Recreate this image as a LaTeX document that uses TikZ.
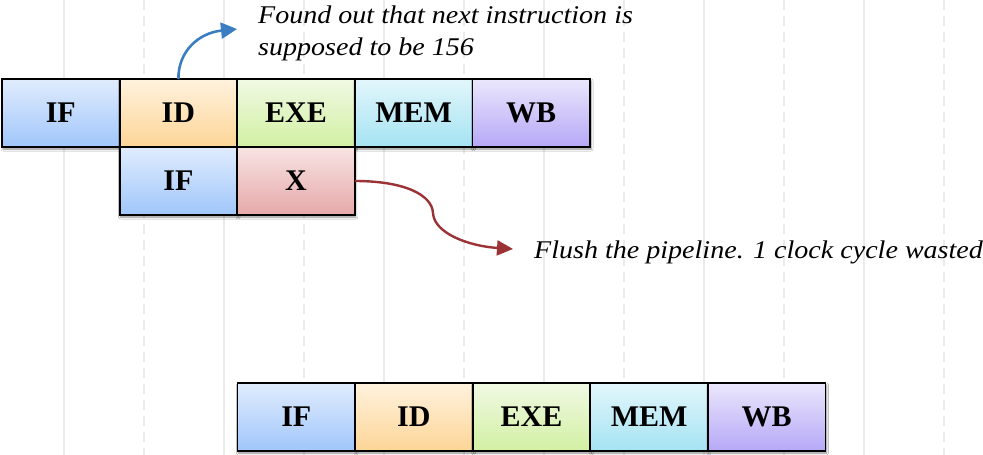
\documentclass[tikz,border=0pt]{standalone}
\usepackage{fontspec}
\setmainfont{Liberation Serif}
\newfontfamily\notefont{Liberation Serif}[FakeStretch=1.1]
\usetikzlibrary{arrows.meta,shadows.blur}

% stage colours: lighter top, stronger bottom
\definecolor{ifTop}{HTML}{E0ECFD}\definecolor{ifBot}{HTML}{A0C6FB}
\definecolor{idTop}{HTML}{FFF2DE}\definecolor{idBot}{HTML}{FDD596}
\definecolor{exTop}{HTML}{F0F9E3}\definecolor{exBot}{HTML}{D2F0A3}
\definecolor{meTop}{HTML}{E2F6FB}\definecolor{meBot}{HTML}{A5E3F3}
\definecolor{wbTop}{HTML}{EBE7FC}\definecolor{wbBot}{HTML}{B6A8F7}
\definecolor{xTop}{HTML}{F8E4E4}\definecolor{xBot}{HTML}{E6A8A8}
\definecolor{gridgray}{HTML}{EBEBEB}
\definecolor{noteblue}{HTML}{3A7DC0}
\definecolor{notered}{HTML}{9A3236}

\tikzset{
  stagebox/.style={draw=black, line width=1.8pt, anchor=north west,
    minimum width=117.6pt, minimum height=68pt, inner sep=0pt, outer sep=0pt,
    font=\fontsize{30}{32}\selectfont\bfseries,
    blur shadow={shadow xshift=1pt, shadow yshift=-2pt, shadow blur radius=2pt,
      shadow blur steps=6, shadow opacity=45}},
  sIF/.style={stagebox, top color=ifTop, bottom color=ifBot},
  sID/.style={stagebox, top color=idTop, bottom color=idBot},
  sEX/.style={stagebox, top color=exTop, bottom color=exBot},
  sME/.style={stagebox, top color=meTop, bottom color=meBot},
  sWB/.style={stagebox, top color=wbTop, bottom color=wbBot},
  sX/.style={stagebox, top color=xTop, bottom color=xBot},
  note/.style={font=\notefont\fontsize{25.5}{32}\selectfont\itshape, inner sep=0pt, align=left},
  gridsolid/.style={draw=gridgray, line width=1.4pt},
  griddash/.style={draw=gridgray, line width=1.4pt, dash pattern=on 10pt off 6pt},
  bluearrow/.style={draw=noteblue, line width=2.6pt,
    -{Triangle[length=16pt,width=16pt]}},
  redarrow/.style={draw=notered, line width=2.4pt,
    -{Triangle[length=16pt,width=15pt]}}
}

\begin{document}
\begin{tikzpicture}[x=1pt,y=-1pt]
  \useasboundingbox (0,0) rectangle (983,455);
  \fill[white] (0,0) rectangle (983,455);

  % background column guides
  \foreach \gx in {64,224,384,544,704,864}
    \draw[gridsolid] (\gx,0) -- (\gx,455);
  \foreach \gx in {144,304,464,624,784,944}
    \draw[griddash] (\gx,0) -- (\gx,455);

  % branch instruction
  \node[sIF] (a1) at (2,79) {IF};
  \node[sID] (a2) at (119.6,79) {ID};
  \node[sEX] (a3) at (237.2,79) {EXE};
  \node[sME] (a4) at (354.8,79) {MEM};
  \node[sWB] (a5) at (472.4,79) {WB};

  % wrongly fetched instruction, flushed
  \node[sIF] (b1) at (119.6,147) {IF};
  \node[sX]  (b2) at (237.2,147) {X};

  % correct instruction (156)
  \node[sIF] (c1) at (237.5,383) {IF};
  \node[sID] (c2) at (355.1,383) {ID};
  \node[sEX] (c3) at (472.7,383) {EXE};
  \node[sME] (c4) at (590.3,383) {MEM};
  \node[sWB] (c5) at (707.9,383) {WB};

  % notes
  \node[note, anchor=base west] (found) at (258,55)
    {Found out that next instruction is\\supposed to be 156};
  \node[note, anchor=base west] (flush) at (534,258)
    {Flush the pipeline. 1 clock cycle wasted};

  \coordinate (blueTip) at (237,29);
  \coordinate (redTip) at (513,249);

  \draw[bluearrow] (a2.north) .. controls (178,52) and (198,33) .. (blueTip);
  \draw[redarrow] (b2.east) .. controls (405,181) and (432,195) .. (433,213)
    .. controls (434,233) and (468,246) .. (redTip);
\end{tikzpicture}
\end{document}
